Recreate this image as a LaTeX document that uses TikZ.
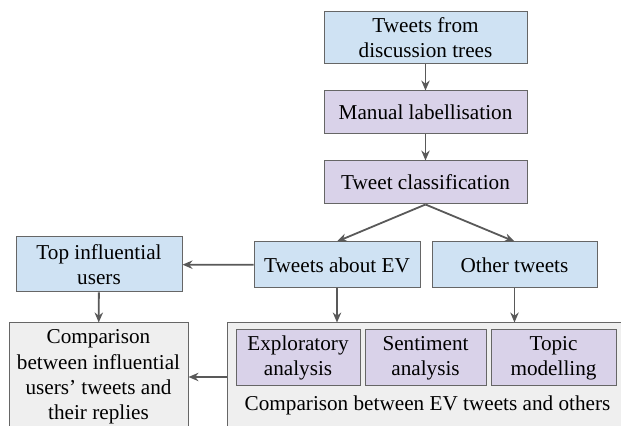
\documentclass[tikz,border=0pt]{standalone}
\usepackage{fontspec}
\setmainfont{Liberation Serif}
\usepackage{tikz}
\usetikzlibrary{arrows.meta}
\usetikzlibrary{positioning}
\definecolor{boxblue}{HTML}{CFE2F3}
\definecolor{boxpurple}{HTML}{D9D2E9}
\definecolor{boxgray}{HTML}{EFEFEF}
\definecolor{linegray}{HTML}{666666}
\definecolor{arrowgray}{HTML}{595959}

\begin{document}
\begin{tikzpicture}[x=0.5pt,y=-0.5pt,
        box/.style={rectangle,draw=linegray,line width=0.5pt,align=center,inner sep=1pt,
            font=\fontsize{10.6}{12.6}\selectfont},
        bluebox/.style={box,fill=boxblue},
        purplebox/.style={box,fill=boxpurple},
        graybox/.style={box,fill=boxgray}]
        \path[use as bounding box] (0,0) rectangle (621,426);
        \clip (0,0) rectangle (621,426);
        \begin{scope}
            \node[bluebox,minimum width=101.5pt,minimum height=26pt] (1) at (425.5, 38) {Tweets from\\discussion trees};
            \node[purplebox,minimum width=101.5pt,minimum height=21.5pt] (2) at (425.5, 112.5) {Manual labellisation};
            \node[purplebox,minimum width=101.5pt,minimum height=21.5pt] (3) at (425.5, 182.5) {Tweet classification};
            \node[bluebox,minimum width=83pt,minimum height=23pt] (4) at (337, 265) {Tweets about EV};
            \node[bluebox,minimum width=82.5pt,minimum height=23pt] (5) at (514.5, 265) {Other tweets};
            \node[bluebox,minimum width=83pt,minimum height=27.5pt] (6) at (99, 264.5) {Top influential\\users};
            \node[graybox,minimum width=89.5pt,minimum height=54pt] (7) at (98.5, 377) {Comparison\\between influential\\users' tweets and\\their replies};
            \node[graybox,minimum width=216.5pt,minimum height=54pt] (8) at (443.5, 377) {};
            \node[purplebox,minimum width=62pt,minimum height=28pt] (9) at (298, 358) {Exploratory\\analysis};
            \node[purplebox,minimum width=60.5pt,minimum height=28pt] (10) at (425.5, 358) {Sentiment\\analysis};
            \node[purplebox,minimum width=62.5pt,minimum height=28pt] (11) at (553.5, 358) {Topic\\modelling};
            \node[font=\fontsize{10.6}{12.6}\selectfont] (12) at (427.5, 405) {Comparison between EV tweets and others};
        \end{scope}
        \begin{scope}[>={Stealth[length=5pt,width=4.2pt]},
            every edge/.style={draw=arrowgray,line width=0.9pt}]
                    \path[->] (1) edge node {} (2);
                    \path[->] (2) edge node {} (3);
                    \path[->] (3.south) edge node {} (4.north);
                    \path[->] (3.south) edge node {} (5.north);
                    \path[->] (4) edge node {} (6);
                    \path[->] (6) edge node {} (7);
                    \path[->] (4) edge node {} (4 |- 8.north);
                    \path[->] (5) edge node {} (5 |- 8.north);
                    \path[->] (8.west) edge node {} (7.east);
        \end{scope}
    \end{tikzpicture}
\end{document}
